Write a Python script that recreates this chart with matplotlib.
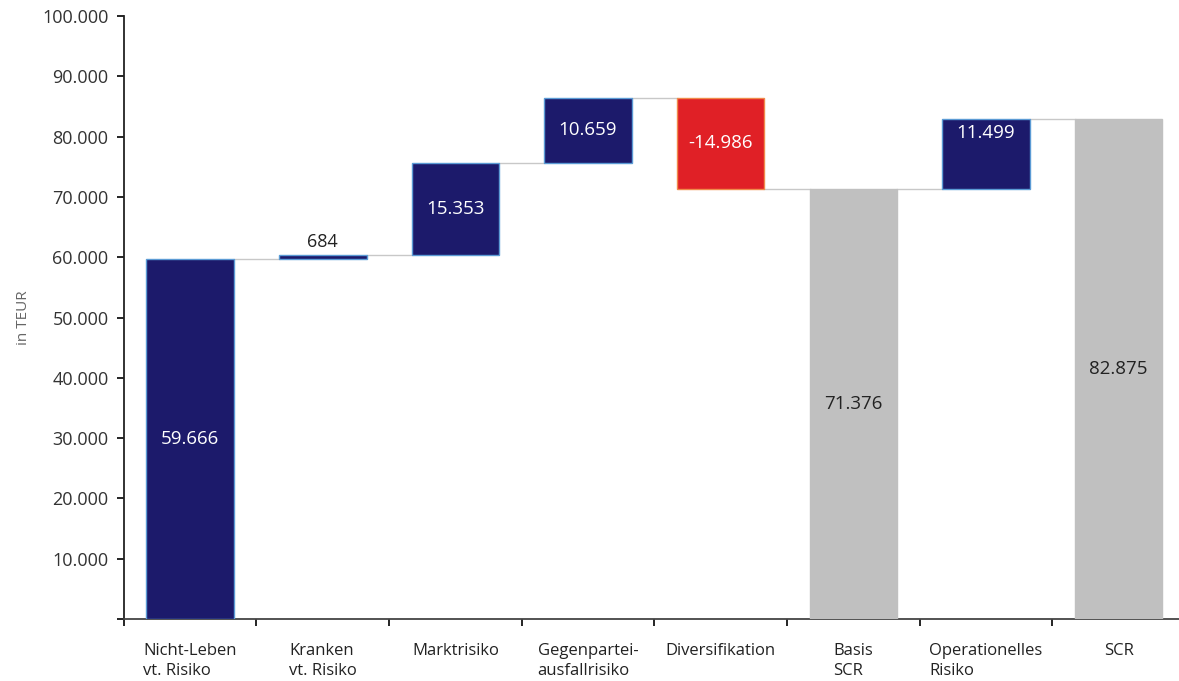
import numpy as np
import matplotlib.pyplot as plt
from matplotlib.ticker import FuncFormatter, MultipleLocator

plt.rcParams['font.family'] = ['Open Sans', 'DejaVu Sans']

# -------- data --------
categories = ["Nicht-Leben\nvt. Risiko", "Kranken\nvt. Risiko", "Marktrisiko",
              "Gegenpartei-\nausfallrisiko", "Diversifikation", "Basis\nSCR",
              "Operationelles\nRisiko", "SCR"]
values = [59666, 684, 15353, 10659, -14986, 71376, 11499, 82875]
is_total = [False, False, False, False, False, True, False, True]
label_frac = [0.5, 0.5, 0.5, 0.5, 0.5, 0.5, 0.8, 0.5]  # where the value label sits in the bar


def fmt(v):
    return f"{v:,.0f}".replace(",", ".")


# -------- waterfall geometry from the data --------
bottoms, heights, colors, edges = [], [], [], []
running = 0
for v, tot in zip(values, is_total):
    if tot:
        bottoms.append(0)
        heights.append(v)
        colors.append("#c0c0c0")
        edges.append("#c0c0c0")
        running = v
    elif v >= 0:
        bottoms.append(running)
        heights.append(v)
        colors.append("#1c1a6b")
        edges.append("#5b9bd5")
        running += v
    else:
        bottoms.append(running + v)
        heights.append(-v)
        colors.append("#e02026")
        edges.append("#f08a4b")
        running += v

x = np.arange(len(categories))
w = 0.66

fig = plt.figure(figsize=(11.79, 6.81), dpi=100)
ax = fig.add_axes([0.105, 0.091, 0.9, 0.8855])

ax.bar(x, heights, bottom=bottoms, width=w, color=colors, edgecolor=edges,
       linewidth=1.0, zorder=3)

# connector lines between bars
for i in range(len(values) - 1):
    level = bottoms[i] + heights[i]
    if values[i] < 0 and not is_total[i]:
        level = bottoms[i]
    ax.plot([x[i] + w / 2, x[i + 1] - w / 2], [level, level],
            color="#c8c8c8", linewidth=1.0, zorder=2)

# value labels
for i, v in enumerate(values):
    if heights[i] < 3000:
        ax.text(x[i], bottoms[i] + heights[i] + 700, fmt(v), ha="center",
                va="bottom", fontsize=13, color="#222222")
    else:
        col = "#222222" if is_total[i] else "white"
        ax.text(x[i], bottoms[i] + heights[i] * label_frac[i], fmt(v),
                ha="center", va="center", fontsize=13.5, color=col, zorder=4)

# -------- axes styling --------
ax.set_xlim(-0.5, len(categories) - 0.5)
ax.set_ylim(0, 100000)
ax.yaxis.set_major_locator(MultipleLocator(10000))
ax.yaxis.set_major_formatter(FuncFormatter(lambda v, p: "" if v == 0 else fmt(v)))
ax.tick_params(axis="y", direction="out", length=5, width=1.2, labelsize=13,
               labelcolor="#333333", pad=6)

ax.set_xticks(x)
ax.set_xticklabels(categories, fontsize=12, color="#222222",
                   multialignment="left", va="top", linespacing=1.4)
ax.tick_params(axis="x", which="major", length=0, pad=17)
ax.set_xticks(np.arange(-0.5, len(categories)), minor=True)
ax.tick_params(axis="x", which="minor", direction="out", length=5, width=1.2)

ax.spines["top"].set_visible(False)
ax.spines["right"].set_visible(False)
ax.spines["left"].set_linewidth(1.3)
ax.spines["bottom"].set_linewidth(1.3)
ax.spines["left"].set_color("#222222")
ax.spines["bottom"].set_color("#444444")

ax.set_ylabel("in TEUR", fontsize=11, color="#666666", labelpad=8)

fig.savefig("out.png", dpi=100)
